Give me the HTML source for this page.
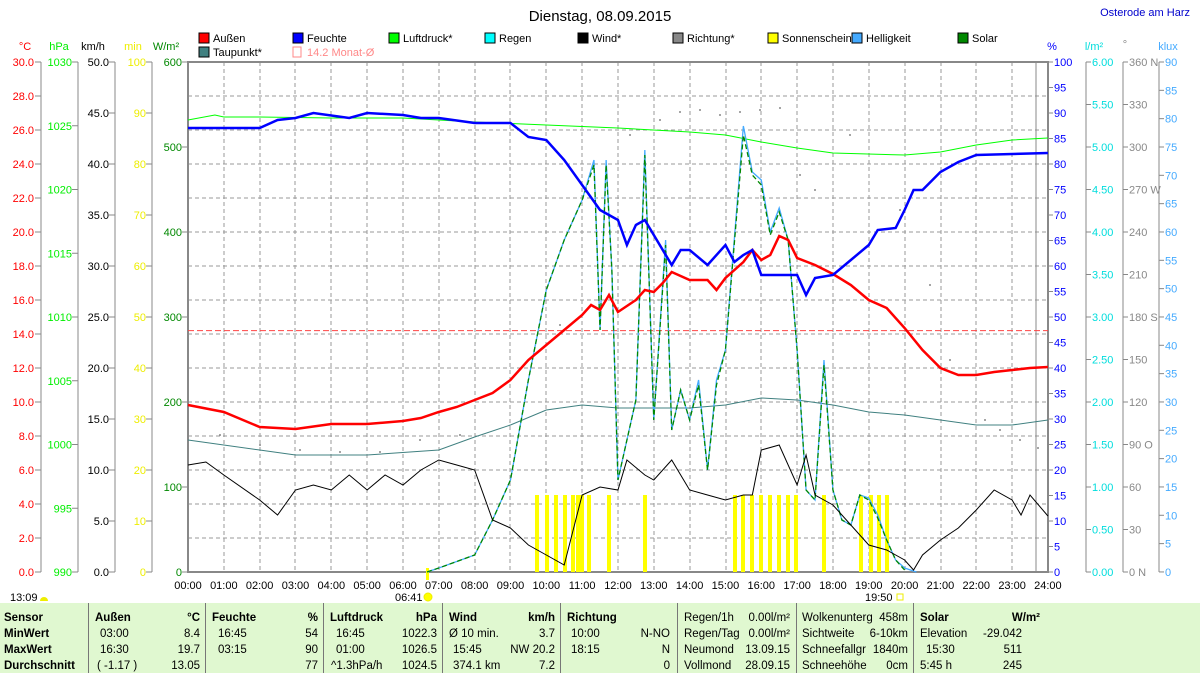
<!DOCTYPE html>
<html><head><meta charset="utf-8"><style>
body{margin:0;background:#fff;width:1200px;height:673px;overflow:hidden;font-family:"Liberation Sans",sans-serif}
svg text{font-family:"Liberation Sans",sans-serif;font-size:11px}
.tb{position:absolute;left:0;top:603px;width:1200px;height:70px;background:#e0f8d0;font-size:11.5px}
.c{position:absolute;top:0;height:70px;border-left:1px solid #777}
.r{position:absolute;white-space:nowrap}
</style></head><body>
<svg width="1200" height="603" style="position:absolute;left:0;top:0">
<text x="600" y="21" text-anchor="middle" style="font-size:15px">Dienstag, 08.09.2015</text>
<text x="1190" y="16" text-anchor="end" fill="#00c" style="font-size:11px">Osterode am Harz</text>
<g>
<rect x="199" y="33" width="10" height="10" fill="#f00" stroke="#000"/><text x="213" y="42">Außen</text>
<rect x="293" y="33" width="10" height="10" fill="#00f" stroke="#000"/><text x="307" y="42">Feuchte</text>
<rect x="389" y="33" width="10" height="10" fill="#0f0" stroke="#000"/><text x="403" y="42">Luftdruck*</text>
<rect x="485" y="33" width="10" height="10" fill="#0ff" stroke="#000"/><text x="499" y="42">Regen</text>
<rect x="578" y="33" width="10" height="10" fill="#000" stroke="#000"/><text x="592" y="42">Wind*</text>
<rect x="673" y="33" width="10" height="10" fill="#888" stroke="#000"/><text x="687" y="42">Richtung*</text>
<rect x="768" y="33" width="10" height="10" fill="#ff0" stroke="#000"/><text x="782" y="42">Sonnenschein</text>
<rect x="852" y="33" width="10" height="10" fill="#4af" stroke="#000"/><text x="866" y="42">Helligkeit</text>
<rect x="958" y="33" width="10" height="10" fill="#080" stroke="#000"/><text x="972" y="42">Solar</text>
<rect x="199" y="47" width="10" height="10" fill="#408080" stroke="#000"/><text x="213" y="56">Taupunkt*</text>
<rect x="293" y="47" width="8" height="10" fill="none" stroke="#f88"/><text x="307" y="56" fill="#f88">14.2 Monat-Ø</text>
</g>
<text x="25" y="50" fill="#f00" text-anchor="middle">°C</text>
<text x="59" y="50" fill="#0e0" text-anchor="middle">hPa</text>
<text x="93" y="50" text-anchor="middle">km/h</text>
<text x="133" y="50" fill="#ee0" text-anchor="middle">min</text>
<text x="166" y="50" fill="#080" text-anchor="middle">W/m²</text>
<text x="1052" y="50" fill="#00f" text-anchor="middle">%</text>
<text x="1094" y="50" fill="#0dd" text-anchor="middle">l/m²</text>
<text x="1125" y="48" fill="#888" text-anchor="middle">°</text>
<text x="1168" y="50" fill="#4af" text-anchor="middle">klux</text>
<g stroke="#999" stroke-dasharray="4,3" stroke-width="1">
<path d="M188 96H1048M188 130H1048M188 164H1048M188 198H1048M188 232H1048M188 266H1048M188 300H1048M188 334H1048M188 368H1048M188 402H1048M188 436H1048M188 470H1048M188 504H1048M188 538H1048"/>
<path d="M224 62V572M260 62V572M295 62V572M331 62V572M367 62V572M403 62V572M439 62V572M475 62V572M510 62V572M546 62V572M582 62V572M618 62V572M654 62V572M690 62V572M726 62V572M761 62V572M797 62V572M833 62V572M869 62V572M905 62V572M941 62V572M976 62V572M1012 62V572"/>
</g>
<line x1="1036" y1="62" x2="1036" y2="572" stroke="#888"/>
<rect x="188" y="62" width="860" height="510" fill="none" stroke="#888" stroke-width="2"/>
<g stroke="#888"><path d="M41 62V572M78 62V572M115 62V572M152 62V572M1086 62V572M1123 62V572M1159 62V572"/></g>
<g id="ax"></g>
<line x1="188" y1="330.6" x2="1048" y2="330.6" stroke="#f44" stroke-dasharray="6,3"/>
<g fill="#ff0">
<rect x="535" y="495" width="4" height="77"/><rect x="545" y="495" width="4" height="77"/><rect x="554" y="495" width="4" height="77"/><rect x="563" y="495" width="4" height="77"/><rect x="571" y="495" width="4" height="77"/><rect x="576" y="495" width="4" height="77"/><rect x="580" y="495" width="4" height="77"/><rect x="587" y="495" width="4" height="77"/><rect x="607" y="495" width="4" height="77"/><rect x="643" y="495" width="4" height="77"/><rect x="733" y="495" width="4" height="77"/><rect x="741" y="495" width="4" height="77"/><rect x="750" y="495" width="4" height="77"/><rect x="759" y="495" width="4" height="77"/><rect x="768" y="495" width="4" height="77"/><rect x="777" y="495" width="4" height="77"/><rect x="786" y="495" width="4" height="77"/><rect x="794" y="495" width="4" height="77"/><rect x="822" y="495" width="4" height="77"/><rect x="859" y="495" width="4" height="77"/><rect x="869" y="495" width="4" height="77"/><rect x="877" y="495" width="4" height="77"/><rect x="885" y="495" width="4" height="77"/>
<rect x="426" y="568" width="3" height="12"/>
</g>
<g fill="#888"><circle cx="380" cy="452" r="1"/><circle cx="420" cy="440" r="1"/><circle cx="460" cy="435" r="1"/><circle cx="560" cy="325" r="1"/><circle cx="630" cy="135" r="1"/><circle cx="660" cy="120" r="1"/><circle cx="680" cy="112" r="1"/><circle cx="700" cy="110" r="1"/><circle cx="720" cy="115" r="1"/><circle cx="740" cy="112" r="1"/><circle cx="760" cy="110" r="1"/><circle cx="780" cy="108" r="1"/><circle cx="800" cy="175" r="1"/><circle cx="815" cy="190" r="1"/><circle cx="850" cy="135" r="1"/><circle cx="900" cy="210" r="1"/><circle cx="930" cy="285" r="1"/><circle cx="950" cy="360" r="1"/><circle cx="985" cy="420" r="1"/><circle cx="1000" cy="430" r="1"/><circle cx="1020" cy="440" r="1"/><circle cx="1038" cy="448" r="1"/><circle cx="220" cy="435" r="1"/><circle cx="260" cy="445" r="1"/><circle cx="300" cy="450" r="1"/><circle cx="340" cy="452" r="1"/></g>
<g transform="translate(188,0) scale(35.83,1)" fill="none">
<polyline vector-effect="non-scaling-stroke" stroke="#0f0" stroke-width="1" points="0,120 0.75,115 1,117 2,117 4,118 6,118 8,122 10,125 12,128 14,132 15,135 16,142 17,148 18,153 20,155 21,152 22,145 23,140 24,138"/>
<polyline vector-effect="non-scaling-stroke" stroke="#408080" stroke-width="1" points="0,440 2,450 3,455 5,455 7,450 8,437 9,425 10,410 11,405 12,408 14,408 15,405 16,398 17,400 18,405 19,412 20,415 21,420 22,425 23,425 24,420"/>
<polyline vector-effect="non-scaling-stroke" stroke="#4af" stroke-width="1.3" points="6.67,572 7,568 8,555 8.5,520 9,480 9.5,380 10,290 10.5,240 11,200 11.33,160 11.5,330 11.67,160 11.83,270 12,480 12.25,440 12.5,400 12.75,150 13,420 13.33,240 13.5,430 13.75,390 14,420 14.25,380 14.5,470 14.75,380 15,350 15.5,126 15.75,172 16,180 16.25,232 16.5,208 16.75,240 17,350 17.25,490 17.5,500 17.75,360 18,490 18.25,520 18.5,525 18.75,495 19,498 19.25,515 19.5,540 19.75,560 20,568 20.33,572"/>
<polyline vector-effect="non-scaling-stroke" stroke="#080" stroke-dasharray="5,3" stroke-width="1.3" points="6.67,572 7,568 8,555 8.5,520 9,480 9.5,380 10,290 10.5,240 11,200 11.33,165 11.5,330 11.67,165 11.83,270 12,480 12.25,440 12.5,400 12.75,155 13,420 13.33,245 13.5,430 13.75,390 14,420 14.25,385 14.5,470 14.75,385 15,350 15.5,135 15.75,175 16,185 16.25,235 16.5,212 16.75,240 17,350 17.25,490 17.5,500 17.75,365 18,490 18.25,520 18.5,525 18.75,495 19,500 19.25,518 19.5,540 19.75,560 20,570"/>
<polyline vector-effect="non-scaling-stroke" stroke="#000" stroke-width="1" points="0,465 0.5,462 1,475 2,500 2.5,515 3,490 3.5,485 4,490 4.5,475 5,490 5.5,475 6,485 6.5,470 7,460 7.5,465 8,470 8.5,520 9,528 9.5,545 10,555 10.5,565 11,495 11.5,487 12,490 12.25,460 12.75,475 13,480 13.5,460 14,490 14.5,495 15,500 15.5,495 15.75,495 16,450 16.5,445 17,485 17.25,455 17.5,495 18,505 18.5,525 19,545 19.5,550 19.75,555 20,560 20.25,570 20.5,555 21,540 21.5,528 22,510 22.5,490 23,500 23.25,515 23.5,495 24,516"/>
<polyline vector-effect="non-scaling-stroke" stroke="#f00" stroke-width="2.5" points="0,405 1,412 2,427 3,429 4,424 5,424 6,421 6.5,418 7,412 7.5,407 8,400 8.5,393 9,380 9.5,360 10,345 10.5,330 11,315 11.25,305 11.5,310 11.75,295 12,312 12.5,300 12.75,290 13,292 13.25,283 13.5,272 14,280 14.5,280 14.75,290 15,278 15.5,262 15.75,250 16,260 16.25,255 16.5,236 16.75,240 17,258 17.5,265 18,274 18.5,285 19,300 19.5,308 20,328 20.5,350 21,368 21.5,375 22,375 22.5,372 23,370 23.5,368 24,367"/>
<polyline vector-effect="non-scaling-stroke" stroke="#00f" stroke-width="2.5" points="0,128 2,128 2.5,120 3,118 3.5,113 4.5,118 5,113 6,115 6.5,118 7,118 8,123 9,123 9.5,137 10,140 10.5,160 11,185 11.5,210 12,220 12.25,245 12.5,225 12.75,220 13,235 13.5,265 13.75,250 14,250 14.5,265 15,245 15.25,262 15.5,255 15.75,250 16,275 17,275 17.25,295 17.5,278 18,275 18.5,260 19,245 19.25,230 19.75,228 20,210 20.25,190 20.5,190 21,172 21.5,162 22,155 24,153"/>
</g>
<g id="tl"></g>
<text x="10" y="601">13:09</text><path d="M40 601a4 4 0 0 1 8 0z" fill="#ee0"/>
<text x="395" y="601">06:41</text><circle cx="428" cy="597" r="4" fill="#ff0" stroke="#ee0"/>
<text x="865" y="601">19:50</text><rect x="897" y="594" width="6" height="6" fill="none" stroke="#ee0"/>
</svg>
<div class="tb">
<div class="c" style="left:88px"></div><div class="c" style="left:205px"></div><div class="c" style="left:323px"></div><div class="c" style="left:442px"></div><div class="c" style="left:560px"></div><div class="c" style="left:677px"></div><div class="c" style="left:796px"></div><div class="c" style="left:913px"></div>
<div id="tbd"></div>
</div>
<script>
var ax=document.getElementById('ax'),s='';
function T(x,y,t,c,a){s+='<text x="'+x+'" y="'+(y+4)+'" fill="'+c+'" text-anchor="'+(a||'end')+'">'+t+'</text>';}
function tk(x1,x2,y){s+='<line x1="'+x1+'" x2="'+x2+'" y1="'+y+'" y2="'+y+'" stroke="#888"/>';}
for(var i=0;i<=15;i++){var y=62+34*i;T(34,y,(30-2*i).toFixed(1),'#f00');tk(35,41,y);}
for(var i=0;i<=8;i++){var y=62+63.75*i;T(72,y,1030-5*i,'#0e0');tk(72,78,y);}
for(var i=0;i<=10;i++){var y=62+51*i;T(109,y,(50-5*i).toFixed(1),'#000');tk(109,115,y);T(146,y,100-10*i,'#ee0');tk(146,152,y);}
for(var i=0;i<=6;i++){var y=62+85*i;T(182,y,600-100*i,'#080');tk(182,188,y);}
for(var i=0;i<=20;i++){var y=62+25.5*i;T(1054,y,100-5*i,'#00f','start');tk(1048,1053,y);}
var dn={0:' N',3:' W',6:' S',9:' O',12:' N'};
for(var i=0;i<=12;i++){var y=62+42.5*i;T(1092,y,(6-0.5*i).toFixed(2),'#0dd','start');tk(1086,1091,y);T(1129,y,(360-30*i)+(dn[i]||''),'#888','start');tk(1123,1128,y);}
for(var i=0;i<=18;i++){var y=62+28.33*i;T(1165,y,90-5*i,'#4af','start');tk(1159,1164,y);}
ax.innerHTML=s;
var tl='';for(var h=0;h<=24;h++){var x=188+35.83*h;tl+='<text x="'+x+'" y="589" text-anchor="middle">'+(h<10?'0':'')+h+':00</text>';}
document.getElementById('tl').innerHTML=tl;
var rows=[
[['Sensor',4,1],['Außen',95,1],['°C',200,1,1],['Feuchte',212,1],['%',318,1,1],['Luftdruck',330,1],['hPa',437,1,1],['Wind',449,1],['km/h',555,1,1],['Richtung',567,1],['Regen/1h',684],['0.00l/m²',790,0,1],['Wolkenunterg',802],['458m',908,0,1],['Solar',920,1],['W/m²',1040,1,1]],
[['MinWert',4,1],['03:00',100],['8.4',200,0,1],['16:45',218],['54',318,0,1],['16:45',336],['1022.3',437,0,1],['Ø 10 min.',449],['3.7',555,0,1],['10:00',571],['N-NO',670,0,1],['Regen/Tag',684],['0.00l/m²',790,0,1],['Sichtweite',802],['6-10km',908,0,1],['Elevation',920],['-29.042',1022,0,1]],
[['MaxWert',4,1],['16:30',100],['19.7',200,0,1],['03:15',218],['90',318,0,1],['01:00',336],['1026.5',437,0,1],['15:45',453],['NW 20.2',555,0,1],['18:15',571],['N',670,0,1],['Neumond',684],['13.09.15',790,0,1],['Schneefallgr',802],['1840m',908,0,1],['15:30',926],['511',1022,0,1]],
[['Durchschnitt',4,1],['( -1.17 )',97],['13.05',200,0,1],['77',318,0,1],['^1.3hPa/h',331],['1024.5',437,0,1],['374.1 km',453],['7.2',555,0,1],['0',670,0,1],['Vollmond',684],['28.09.15',790,0,1],['Schneehöhe',802],['0cm',908,0,1],['5:45 h',920],['245',1022,0,1]]];
var o='';rows.forEach(function(r,i){r.forEach(function(c){var st='top:'+(9+16*i)+'px;'+(c[3]?'right:'+(1200-c[1])+'px;':'left:'+c[1]+'px;')+(c[2]?'font-weight:bold;':'');o+='<div class="r" style="'+st+'">'+c[0]+'</div>';});});
document.getElementById('tbd').innerHTML=o;
</script>
</body></html>
